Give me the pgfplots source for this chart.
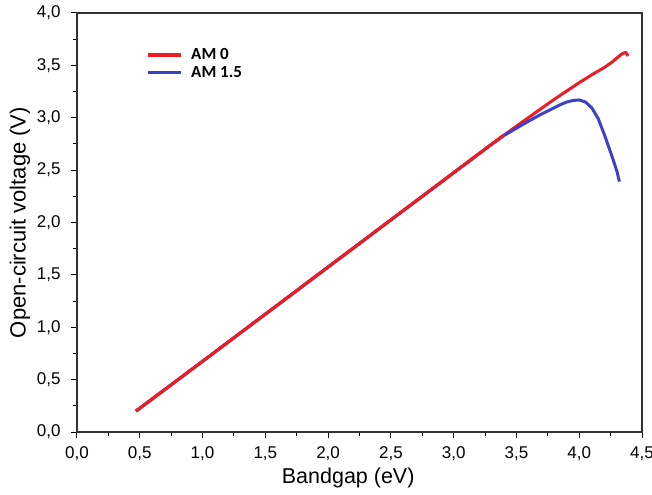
\documentclass[border=0pt]{standalone}
\usepackage{fontspec}
\setmainfont{Liberation Sans}
\newfontfamily\legfont{Carlito}
\usepackage{pgfplots}
\pgfplotsset{compat=1.18}
\definecolor{amred}{RGB}{237,28,36}
\definecolor{amblue}{RGB}{62,64,204}
\definecolor{axgray}{RGB}{50,50,50}
\begin{document}
\begin{tikzpicture}
\begin{axis}[
  scale only axis,
  width=565bp, height=419bp,
  xmin=0, xmax=4.5, ymin=0, ymax=4.0,
  xtick={0,0.5,...,4.5}, ytick={0,0.5,...,4.0},
  minor tick num=1,
  tick align=outside,
  xtick pos=bottom, ytick pos=left,
  major tick length=6bp, minor tick length=4bp,
  every tick/.style={black, line width=1bp},
  axis line style={axgray, line width=1.3bp},
  /pgf/number format/.cd, use comma, fixed, fixed zerofill, precision=1, assume math mode=true,
  /pgfplots/.cd,
  ticklabel style={font=\fontsize{17bp}{19bp}\selectfont},
  xticklabel style={yshift=-5bp},
  yticklabel style={xshift=-7bp},
  xlabel={Bandgap (eV)}, ylabel={Open-circuit voltage (V)},
  xlabel style={font=\fontsize{21.5bp}{24bp}\selectfont, at={(axis description cs:0.48,-0.11)}, anchor=center},
  ylabel style={font=\fontsize{22bp}{24bp}\selectfont, at={(axis description cs:-0.101,0.5)}, anchor=center},
  legend style={at={(axis cs:0.53,3.70)}, anchor=north west, draw=none, fill=none,
    font=\legfont\bfseries\fontsize{17bp}{19bp}\selectfont, row sep=1bp,
    /tikz/every odd column/.style={column sep=6bp}},
  legend cell align=left,
  legend image code/.code={\draw[#1, line width=3.5bp] (0bp,0bp) -- (33bp,0bp);},
]
\addplot[amred, line width=3bp, line join=round] coordinates {
(0.47,0.20) (1.0,0.675) (1.5,1.125) (2.0,1.575) (2.5,2.025) (3.0,2.475) (3.3,2.745)
(3.5,2.92) (3.7,3.09) (3.8,3.175) (3.9,3.255) (4.0,3.335) (4.1,3.41) (4.2,3.48)
(4.26,3.53) (4.3,3.57) (4.34,3.61) (4.37,3.625) (4.39,3.59)
};
\addlegendentry{AM 0}
\addplot[amblue, line width=3bp, line join=round] coordinates {
(0.47,0.20) (1.0,0.675) (1.5,1.125) (2.0,1.575) (2.5,2.025) (3.0,2.475) (3.3,2.745)
(3.4,2.83) (3.5,2.90) (3.6,2.97) (3.7,3.035) (3.8,3.095) (3.85,3.125) (3.9,3.15)
(3.95,3.165) (4.0,3.17) (4.05,3.15) (4.1,3.095) (4.15,2.995) (4.2,2.84) (4.25,2.67)
(4.3,2.49) (4.32,2.39)
};
\addlegendentry{AM 1.5}
\addplot[amred, line width=3bp, line join=round, forget plot] coordinates {
(0.47,0.20) (1.0,0.675) (1.5,1.125) (2.0,1.575) (2.5,2.025) (3.0,2.475) (3.3,2.745) (3.4,2.835)
};
\end{axis}
\pgfresetboundingbox
\path ([shift={(-77bp,-63bp)}]current axis.south west) rectangle ([shift={(10bp,13bp)}]current axis.north east);
\end{tikzpicture}
\end{document}
